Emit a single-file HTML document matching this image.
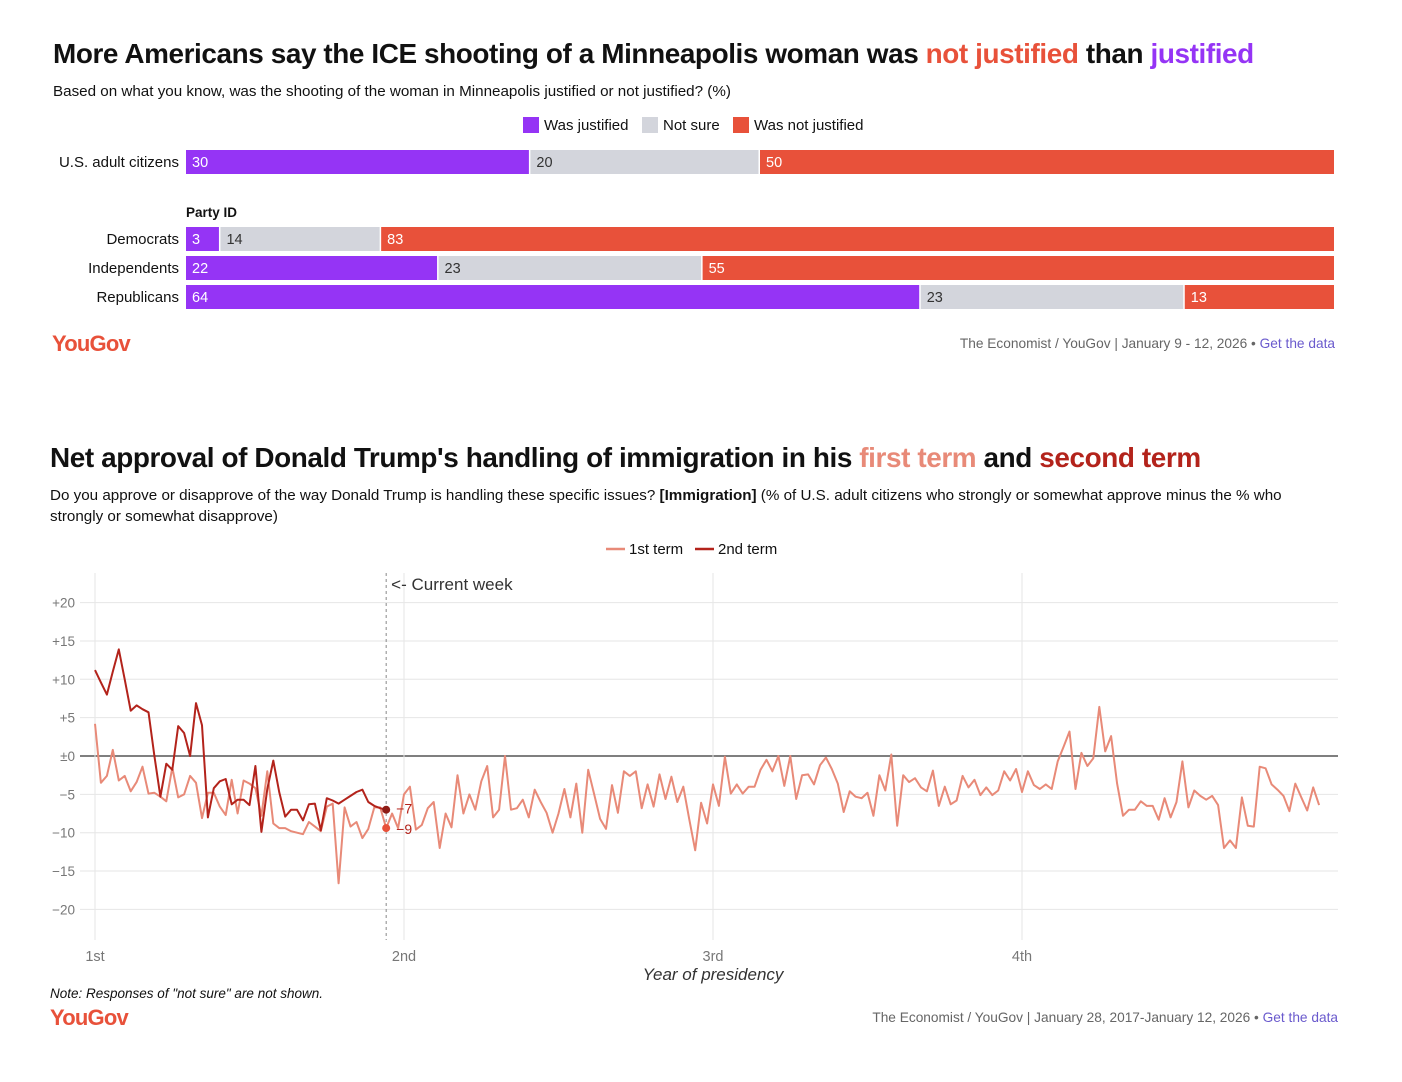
<!DOCTYPE html>
<html><head><meta charset="utf-8">
<style>
body{margin:0;background:#fff;font-family:"Liberation Sans",sans-serif;color:#111;}
#wrap{position:relative;width:1402px;height:1082px;overflow:hidden;}
</style></head>
<body><div id="wrap">
<svg id="bars" width="1402" height="380" style="position:absolute;left:0;top:0"></svg>
<svg id="line" width="1402" height="702" style="position:absolute;left:0;top:380"></svg>
</div>
<script>
// ---- bar chart data ----
const barGroups = ["U.S. adult citizens","Democrats","Independents","Republicans"];
const justified = [30,3,22,64];
const notSure = [20,14,23,23];
const notJustified = [50,83,55,13];
// ---- line chart data ----
const yTicks = [20,15,10,5,0,-5,-10,-15,-20];
const yTickLabels = ["+20","+15","+10","+5","±0","−5","−10","−15","−20"];
const yearLabels = ["1st","2nd","3rd","4th"];
const firstTerm = [4.2,-3.5,-2.6,0.8,-3.2,-2.6,-4.6,-3.4,-1.4,-4.9,-4.8,-5.3,-5.9,-1.5,-5.4,-5,-2.6,-3.5,-8.1,-4.8,-4.8,-6.6,-7.7,-3.1,-7.5,-3.2,-3.6,-4.2,-7.8,-2,-8.8,-9.4,-9.4,-9.8,-10,-10.2,-8.6,-9.2,-9.8,-6.6,-6.2,-16.6,-6.7,-9.2,-8.6,-10.7,-9.5,-6.7,-6.7,-9.4,-7.5,-9.4,-5,-4,
-9.6,-9,-6.8,-6,-12,-7.5,-9.3,-2.5,-7.5,-5,-7,-3.3,-1.3,-8,-7,0,-7,-6.8,-5.7,-8,-4.4,-6,-7.4,-10,-7.5,-4.3,-8,-3.6,-10,-1.8,-5,-8.2,-9.5,-3.8,-7.4,-2,-2.6,-2,-6.8,-3.7,-6.6,-2.4,-5.6,-2.7,-6,-4,-8.2,-12.3,-6.1,-8.8,-3.7,-6.5,-0.1,-4.9,-3.7,-4.9,-4,-4,-1.8,-0.5,-2,0,-3.9,0,-5.6,-2.5,-2.4,-3.7,-1.2,-0.2,-1.7,-3.6,-7.3,-4.6,-5.3,-5.5,-4.8,-7.8,
-2.5,-4.5,0.2,-9.1,-2.5,-3.4,-2.9,-4.1,-4.6,-1.9,-6.5,-4,-6.3,-5.8,-2.6,-4.1,-3.1,-5.1,-4.1,-5.1,-4.5,-2,-3.2,-1.7,-4.7,-2,-3.8,-4.3,-3.7,-4.3,-0.7,1.2,3.2,-4.3,0.4,-1.3,-0.3,6.4,0.6,2.6,-3.6,-7.8,-7,-7,-5.9,-6.5,-6.5,-8.3,-5.5,-8,-6,-0.7,-6.7,-4.5,-5.2,-5.7,-5.2,-6.4,-12,-11,-12,-5.4,-9.1,-9.2,-1.4,-1.6,-3.7,-4.4,-5.2,-7.2,-3.6,-5.4,-7.1,-4.1,-6.4];
const secondTerm = [11.2,9.6,8,11,13.9,10,5.9,6.6,6.1,5.7,0,-5.3,-1,-1.8,3.9,3,0,6.9,4,-8,-4.2,-3.3,-3,-6.3,-5.7,-5.7,-6.4,-1.3,-9.9,-4.3,-0.6,-4.7,-7.9,-7,-7,-8.4,-6.3,-6.2,-9.7,-5.5,-5.8,-6.2,-5.7,-5.2,-4.7,-4.4,-6,-6.5,-6.8,-7];
const currentWeek = 49;
const endLabels = ["−7","−9"];

const NS="http://www.w3.org/2000/svg";
function mk(p,tag,attrs,text){const e=document.createElementNS(NS,tag);for(const k in attrs)e.setAttribute(k,attrs[k]);if(text!==undefined)e.textContent=text;p.appendChild(e);return e;}
const C={purple:"#9534f5",gray:"#d3d5dc",red:"#e8513a",light:"#e88a78",dark:"#b3231b"};

// ===== Top chart =====
const B=document.getElementById('bars');
let e;
e=mk(B,'text',{x:53,y:63,'font-size':'27.9','font-weight':'bold','letter-spacing':'-0.4',fill:'#111'});

e.innerHTML='More Americans say the ICE shooting of a Minneapolis woman was <tspan fill="#e8513a">not justified</tspan> than <tspan fill="#9534f5">justified</tspan>';
e=mk(B,'text',{x:53,y:96,'font-size':'15.2',fill:'#111'},'Based on what you know, was the shooting of the woman in Minneapolis justified or not justified? (%)');

const legItems=[["Was justified",C.purple,523],["Not sure",C.gray,642],["Was not justified",C.red,733]];
legItems.forEach(l=>{const g=mk(B,'g',{});

mk(g,'rect',{x:l[2],y:117,width:16,height:16,fill:l[1]});mk(g,'text',{x:l[2]+21,y:130,'font-size':'15',fill:'#111'},l[0]);});
const bx=v=>186+v*1148/100;
const rowY=[150,227,256,285];
e=mk(B,'text',{x:186,y:217,'font-size':'13.5','font-weight':'bold',fill:'#111'},'Party ID');

barGroups.forEach((g,i)=>{
  const y=rowY[i];
  const lab=mk(B,'text',{x:179,y:y+17,'font-size':'15','text-anchor':'end',fill:'#111'},g);
  
  const segs=[[justified[i],C.purple,'#fff'],[notSure[i],C.gray,'#333'],[notJustified[i],C.red,'#fff']];
  let acc=0;
  segs.forEach((s,k)=>{
    const r=mk(B,'rect',{x:bx(acc),y:y,width:bx(acc+s[0])-bx(acc)-(k<2?1.5:0),height:24,fill:s[1]});
    
    mk(B,'text',{x:bx(acc)+6,y:y+17,'font-size':'14.5',fill:s[2]},String(s[0]));
    acc+=s[0];
  });
});
e=mk(B,'text',{x:52,y:351,'font-size':'22','font-weight':'bold','letter-spacing':'-0.8',fill:'#e8513a'},'YouGov');

e=mk(B,'text',{x:1335,y:348,'font-size':'13.7','text-anchor':'end',fill:'#666'});

e.innerHTML='The Economist / YouGov | January 9 - 12, 2026 • <tspan fill="#6a5acd">Get the data</tspan>';

// ===== Bottom chart =====
const L=document.getElementById('line');
const OY=380;
e=mk(L,'text',{x:50,y:467-OY,'font-size':'27.9','font-weight':'bold','letter-spacing':'-0.4',fill:'#111'});

e.innerHTML='Net approval of Donald Trump\'s handling of immigration in his <tspan fill="#e88a78">first term</tspan> and <tspan fill="#b3231b">second term</tspan>';
e=mk(L,'text',{x:50,y:500-OY,'font-size':'15.2',fill:'#111'});

e.innerHTML='Do you approve or disapprove of the way Donald Trump is handling these specific issues? <tspan font-weight="bold">[Immigration]</tspan> (% of U.S. adult citizens who strongly or somewhat approve minus the % who';
mk(L,'text',{x:50,y:521-OY,'font-size':'15.2',fill:'#111'},'strongly or somewhat disapprove)');
[["1st term",C.light,606],["2nd term",C.dark,695]].forEach(l=>{const g=mk(L,'g',{});

mk(g,'line',{x1:l[2],x2:l[2]+19,y1:549-OY,y2:549-OY,stroke:l[1],'stroke-width':2.5});
mk(g,'text',{x:l[2]+23,y:554-OY,'font-size':'15',fill:'#111'},l[0]);});
const ys=v=>(756-OY)-v*7.67;
const weekPx=309/52;
const xs=i=>95+i*weekPx;
yTicks.forEach((t,i)=>{
  const gl=mk(L,'line',{x1:80,x2:1338,y1:ys(t),y2:ys(t),stroke:t===0?'#555':'#e6e6e6','stroke-width':t===0?1.5:1});
  
  const tl=mk(L,'text',{x:75,y:ys(t)+5,'font-size':'13.5','text-anchor':'end',fill:'#777'},yTickLabels[i]);
  
});
yearLabels.forEach((y,i)=>{
  const x=xs(i*52);
  mk(L,'line',{x1:x,x2:x,y1:573-OY,y2:940-OY,stroke:'#e6e6e6','stroke-width':1});
  const tl=mk(L,'text',{x:x,y:961-OY,'font-size':'14.5','text-anchor':'middle',fill:'#777'},y);
  
});
e=mk(L,'text',{x:713,y:980-OY,'font-size':'17','font-style':'italic','text-anchor':'middle',fill:'#333'},'Year of presidency');

const cx=xs(currentWeek);
e=mk(L,'line',{x1:cx,x2:cx,y1:573-OY,y2:940-OY,stroke:'#888','stroke-width':1,'stroke-dasharray':'3,3'});

e=mk(L,'text',{x:cx+5,y:590-OY,'font-size':'17',fill:'#333'},'<- Current week');

function path(arr){return arr.map((v,i)=>(i?'L':'M')+xs(i).toFixed(1)+','+ys(v).toFixed(1)).join('');}
e=mk(L,'path',{d:path(firstTerm),fill:'none',stroke:C.light,'stroke-width':2,'stroke-linejoin':'round'});

e=mk(L,'path',{d:path(secondTerm),fill:'none',stroke:C.dark,'stroke-width':2,'stroke-linejoin':'round'});

const lastI=secondTerm.length-1;
e=mk(L,'circle',{cx:xs(lastI),cy:ys(secondTerm[lastI]),r:4,fill:'#8e1c15'});

e=mk(L,'circle',{cx:xs(lastI),cy:ys(firstTerm[lastI]),r:4,fill:'#e8513a'});

mk(L,'text',{x:xs(lastI)+10,y:ys(secondTerm[lastI])+4,'font-size':'14',fill:C.dark},endLabels[0]);
mk(L,'text',{x:xs(lastI)+10,y:ys(firstTerm[lastI])+6,'font-size':'14',fill:C.dark},endLabels[1]);
e=mk(L,'text',{x:50,y:998-OY,'font-size':'13.5','font-style':'italic',fill:'#111'},'Note: Responses of "not sure" are not shown.');

e=mk(L,'text',{x:50,y:1025-OY,'font-size':'22','font-weight':'bold','letter-spacing':'-0.8',fill:'#e8513a'},'YouGov');

e=mk(L,'text',{x:1338,y:1022-OY,'font-size':'13.7','text-anchor':'end',fill:'#666'});

e.innerHTML='The Economist / YouGov | January 28, 2017-January 12, 2026 • <tspan fill="#6a5acd">Get the data</tspan>';
</script>
</body></html>
